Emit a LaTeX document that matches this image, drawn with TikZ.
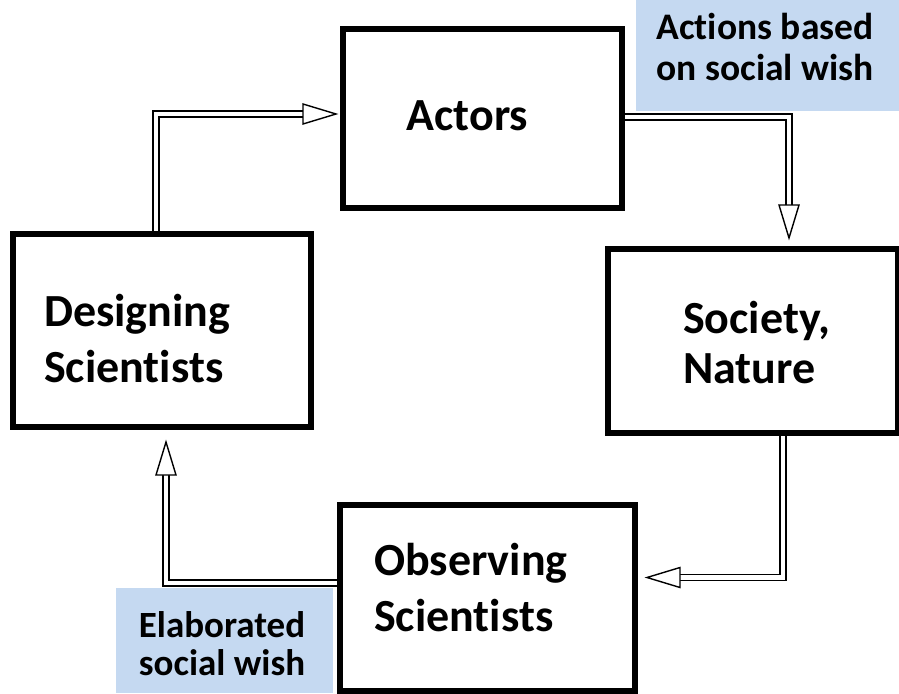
\documentclass[tikz,border=0pt]{standalone}
\usepackage{fontspec}
\setmainfont{Carlito}[Ligatures=NoCommon]
\usetikzlibrary{calc}
\definecolor{notefill}{RGB}{197,217,241}

\begin{document}
\begin{tikzpicture}[x=1pt,y=-1pt,
  box/.style={draw=black, line width=4pt, rectangle, inner sep=0pt},
  note/.style={fill=notefill, rectangle, inner sep=0pt},
  bigtext/.style={font=\bfseries\fontsize{46}{56}\selectfont, align=left, inner sep=0pt, anchor=north west},
  smalltext/.style={font=\bfseries\fontsize{37.5}{40}\selectfont, align=center, inner sep=0pt, anchor=north},
  shaft/.style={draw=black, line width=1.4pt, double=white, double distance=4.6pt, line join=miter},
  hollowhead/.style={draw=black, fill=white, line width=1.4pt, line join=miter},
  headright/.pic={\draw[hollowhead] (0,0) -- (-33,-10) -- (-33,10) -- cycle;},
  headdown/.pic={\draw[hollowhead] (0,0) -- (-10,-33) -- (10,-33) -- cycle;},
  headleft/.pic={\draw[hollowhead] (0,0) -- (33,-10) -- (33,10) -- cycle;},
  headup/.pic={\draw[hollowhead] (0,0) -- (-10,33) -- (10,33) -- cycle;},
]
\useasboundingbox (0,0) rectangle (899,693);

% shaded notes
\node[note, minimum width=263pt, minimum height=111pt] (nA) at (767.5,55.5) {};
\node[note, minimum width=217pt, minimum height=105pt] (nE) at (224.5,640.5) {};

% the four boxes
\node[box, minimum width=277pt, minimum height=177pt] (A) at (482.5,118.5) {};
\node[box, minimum width=288pt, minimum height=182pt] (S) at (753,341) {};
\node[box, minimum width=296pt, minimum height=191pt] (D) at (162,330.5) {};
\node[box, minimum width=293pt, minimum height=184pt] (O) at (487.5,598) {};

% arrow tips
\coordinate (t1) at ($(A.west |- 0,114)+(-6,0)$);
\coordinate (t2) at ($(789,0 |- S.north)+(0,-10)$);
\coordinate (t3) at ($(O.east |- 0,577.5)+(11,0)$);
\coordinate (t4) at ($(166,0 |- D.south)+(0,14)$);

% double-line connectors
\draw[shaft] (156,0 |- D.north) -- (156,114) -- ($(t1)+(-30,0)$);
\draw[shaft] (A.east |- 0,117) -- (789,117) -- ($(t2)+(0,-30)$);
\draw[shaft] (783,0 |- S.south) -- (783,577.5) -- ($(t3)+(30,0)$);
\draw[shaft] (O.west |- 0,583) -- (166,583) -- ($(t4)+(0,30)$);
\pic at (t1) {headright};
\pic at (t2) {headdown};
\pic at (t3) {headleft};
\pic at (t4) {headup};

% redraw box borders over the connector ends
\foreach \b in {A,S,D,O}
  \draw[line width=4pt] (\b.north west) rectangle (\b.south east);

% labels
\node[bigtext, anchor=base] (tA) at (467.5,130) {Actors};
\node[bigtext] (tD) at (44,294) {Designing\\Scientists};
\node[bigtext, font=\bfseries\fontsize{46}{50}\selectfont] (tS) at (683,301) {Society,\\Nature};
\node[bigtext] (tO) at (374,543) {Observing\\Scientists};
\node[smalltext, font=\bfseries\fontsize{37.5}{41}\selectfont] (tnA) at (765,12.5) {Actions based\\on social wish};
\node[smalltext, font=\bfseries\fontsize{37}{38}\selectfont] (tnE) at (222,611) {Elaborated\\social wish};
\end{tikzpicture}
\end{document}
